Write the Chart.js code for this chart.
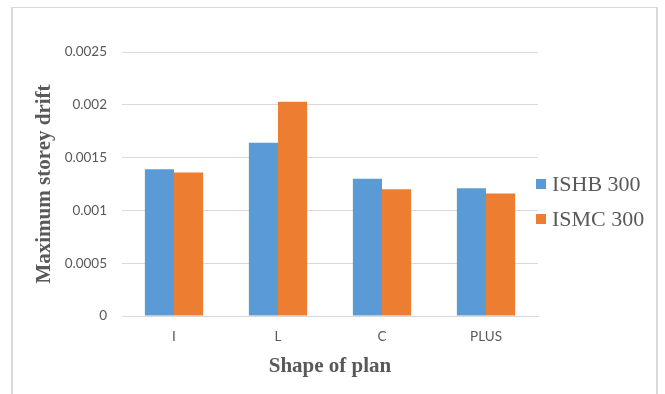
<!DOCTYPE html>
<html>
<head>
<meta charset="utf-8">
<script src="https://cdn.jsdelivr.net/npm/chart.js@4/dist/chart.umd.min.js"></script>
<style>
  html, body { margin: 0; padding: 0; background: #ffffff; }
  #wrap { position: relative; width: 665px; height: 394px; overflow: hidden; }
  #frame {
    position: absolute; left: 11px; top: 7px; width: 643px; height: 420px;
    border-top: 1px solid #d9d9d9; border-left: 2px solid #d9d9d9; border-right: 2px solid #d9d9d9;
  }
  #chart { position: absolute; left: 0; top: 0; }
</style>
</head>
<body>
<div id="wrap">
  <div id="frame"></div>
  <canvas id="chart" width="665" height="394"></canvas>
</div>
<script>
// Plan shapes and the maximum storey drift for each section type
const shapes = ['I', 'L', 'C', 'PLUS'];
const ishb300 = [0.00139, 0.00164, 0.00130, 0.00121];
const ismc300 = [0.00136, 0.00203, 0.00120, 0.00116];
const yTickLabels = ['0', '0.0005', '0.001', '0.0015', '0.002', '0.0025'];

const GREY = '#595959';
const GRID = '#d9d9d9';

// Legend drawn to the right of the plot area, stacked vertically
const sideLegend = {
  id: 'sideLegend',
  afterDraw(chart) {
    const ctx = chart.ctx;
    const area = chart.chartArea;
    const x = area.right - 2;
    const startY = (area.top + area.bottom) / 2;
    const step = 35;
    ctx.save();
    ctx.font = '22px "Liberation Serif", "Times New Roman", serif';
    ctx.textBaseline = 'middle';
    ctx.textAlign = 'left';
    chart.data.datasets.forEach((ds, i) => {
      const y = startY + i * step;
      ctx.fillStyle = ds.backgroundColor;
      ctx.fillRect(x, y - 5, 10, 10);
      ctx.fillStyle = GREY;
      ctx.fillText(ds.label, x + 16, y + 1);
    });
    ctx.restore();
  }
};

new Chart(document.getElementById('chart'), {
  type: 'bar',
  data: {
    labels: shapes,
    datasets: [
      { label: 'ISHB 300', data: ishb300, backgroundColor: '#5B9BD5' },
      { label: 'ISMC 300', data: ismc300, backgroundColor: '#ED7D31' }
    ]
  },
  options: {
    responsive: false,
    animation: false,
    events: [],
    layout: { padding: { left: 0, top: 52, right: 127, bottom: 0 } },
    datasets: { bar: { barPercentage: 1, categoryPercentage: 0.56 } },
    plugins: { legend: { display: false }, tooltip: { enabled: false } },
    scales: {
      x: {
        grid: { display: false, drawTicks: false },
        border: { display: true, color: GRID, width: 1 },
        ticks: { padding: 13, color: GREY, font: { family: 'Lato', size: 13.5 } },
        title: {
          display: true, text: 'Shape of plan', color: GREY,
          font: { family: '"Liberation Serif", "Times New Roman", serif', size: 21, weight: 'bold' },
          padding: { top: 0, bottom: 15 }
        },
        afterFit(scale) { scale.height = 78; }
      },
      y: {
        min: 0, max: 0.0025,
        grid: { color: GRID, lineWidth: 1, drawTicks: false },
        border: { display: false },
        ticks: {
          stepSize: 0.0005, padding: 15, color: GREY,
          font: { family: 'Lato', size: 13.5 },
          callback: (v, i) => yTickLabels[i]
        },
        title: {
          display: true, text: 'Maximum storey drift', color: GREY,
          font: { family: '"Liberation Serif", "Times New Roman", serif', size: 21, weight: 'bold' },
          padding: { top: 32, bottom: 0 }
        },
        afterFit(scale) { scale.width = 122; }
      }
    }
  },
  plugins: [sideLegend]
});
</script>
</body>
</html>
